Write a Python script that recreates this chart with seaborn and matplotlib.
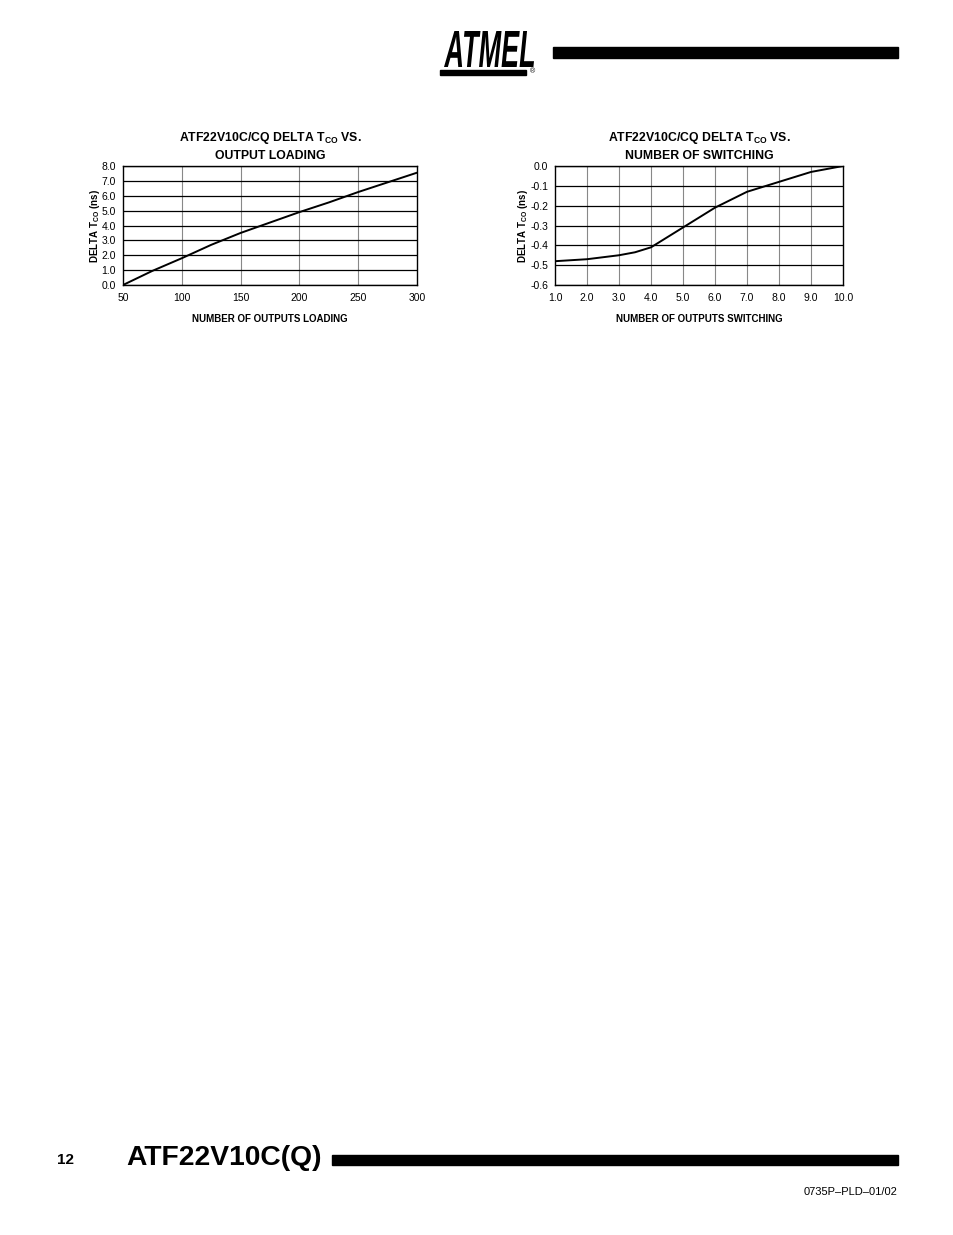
import matplotlib
matplotlib.use("Agg")
import matplotlib.pyplot as plt
import seaborn as sns
import pandas as pd
from matplotlib.patches import Rectangle, PathPatch
from matplotlib.textpath import TextPath
from matplotlib.font_manager import FontProperties
from matplotlib.transforms import Affine2D

# dados
carga_x = [50, 75, 100, 125, 150, 175, 200, 225, 250, 275, 300]
carga_y = [0.0, 0.95, 1.8, 2.7, 3.5, 4.2, 4.9, 5.55, 6.25, 6.9, 7.55]

chave_x = [1.0, 2.0, 3.0, 3.5, 4.0, 4.5, 5.0, 5.5, 6.0, 6.5, 7.0, 7.5, 8.0, 8.5, 9.0, 9.5, 10.0]
chave_y = [-0.48, -0.47, -0.45, -0.435, -0.41, -0.36, -0.31, -0.26, -0.21, -0.17,
           -0.13, -0.105, -0.08, -0.055, -0.03, -0.015, 0.0]

ticks_x_esq = [50, 100, 150, 200, 250, 300]
ticks_y_esq = [0, 1, 2, 3, 4, 5, 6, 7, 8]
ticks_x_dir = [1, 2, 3, 4, 5, 6, 7, 8, 9, 10]
ticks_y_dir = [0.0, -0.1, -0.2, -0.3, -0.4, -0.5, -0.6]

sns.set_style("white")
plt.rcParams['font.family'] = ['Liberation Sans', 'DejaVu Sans']
plt.rcParams['text.color'] = 'black'
plt.rcParams['axes.labelcolor'] = 'black'
plt.rcParams['xtick.color'] = 'black'
plt.rcParams['ytick.color'] = 'black'
plt.rcParams['mathtext.fontset'] = 'custom'
plt.rcParams['mathtext.rm'] = 'Liberation Sans:bold'
plt.rcParams['mathtext.it'] = 'Liberation Sans:bold'

W, H = 954, 1235
fig = plt.figure(figsize=(W / 100, H / 100), dpi=100)


def caixa(l, t, r, b):
    return [l / W, 1 - b / H, (r - l) / W, (b - t) / H]


def desenhar(ax, x, y, xt, yt, xlim, ylim, fmt_x, fmt_y, titulo2, xlabel):
    df = pd.DataFrame({'x': x, 'y': y})
    sns.lineplot(data=df, x='x', y='y', ax=ax, color='black', linewidth=1.4)
    ax.set_xlim(*xlim)
    ax.set_ylim(*ylim)
    ax.set_xticks(xt)
    ax.set_yticks(yt)
    ax.set_xticklabels([fmt_x(v) for v in xt], fontsize=7.5)
    ax.set_yticklabels([fmt_y(v) for v in yt], fontsize=7.5)
    ax.tick_params(axis='y', length=0, pad=5)
    ax.tick_params(axis='x', length=0, pad=6)
    for v in xt[1:-1]:
        ax.axvline(v, color='#888888', linewidth=0.8, zorder=0)
    for v in yt:
        ax.axhline(v, color='black', linewidth=0.9, zorder=0)
    for s in ax.spines.values():
        s.set_color('black')
        s.set_linewidth(1.0)
    ax.set_title('ATF22V10C/CQ DELTA T$_{CO}$ VS.\n' + titulo2,
                 fontsize=8.8, fontweight='bold', pad=5, linespacing=1.45)
    ax.set_xlabel(xlabel, fontsize=7, fontweight='bold', labelpad=8)
    ax.set_ylabel('DELTA T$_{CO}$ (ns)', fontsize=7, fontweight='bold', labelpad=0)


ax1 = fig.add_axes(caixa(123, 166, 417, 285))
desenhar(ax1, carga_x, carga_y, ticks_x_esq, ticks_y_esq, (50, 300), (0, 8),
         lambda v: f'{v}', lambda v: f'{v:.1f}', 'OUTPUT LOADING',
         'NUMBER OF OUTPUTS LOADING')

ax2 = fig.add_axes(caixa(555, 166, 843, 285))
desenhar(ax2, chave_x, chave_y, ticks_x_dir, ticks_y_dir, (1, 10), (-0.6, 0.0),
         lambda v: f'{v:.1f}', lambda v: f'{v:.1f}', 'NUMBER OF SWITCHING',
         'NUMBER OF OUTPUTS SWITCHING')

# cabeçalho: logo condensado esticado para caber na caixa do original
tp = TextPath((0, 0), 'ATMEL', size=10,
              prop=FontProperties(family='Liberation Sans', weight='bold', style='italic'))
ext = tp.get_extents()
l, t, r, b = 444, 31, 534, 67
sx = (r - l) / W / ext.width
sy = (b - t) / H / ext.height
tr = Affine2D().translate(-ext.x0, -ext.y0).scale(sx, sy).translate(l / W, 1 - b / H)
fig.add_artist(PathPatch(tr.transform_path(tp), transform=fig.transFigure,
                         color='black', lw=0))
fig.add_artist(Rectangle((440 / W, 1 - 75 / H), 86 / W, 5 / H, transform=fig.transFigure,
                         color='black'))
fig.text(533 / W, 1 - 72 / H, '®', fontsize=5, ha='center', va='center')
fig.add_artist(Rectangle((553 / W, 1 - 58 / H), 345 / W, 11 / H, transform=fig.transFigure,
                         color='black'))

# rodapé
fig.text(57 / W, 1 - 1160 / H, '12', fontsize=11, fontweight='bold', ha='left', va='center')
fig.text(126 / W, 1 - 1158 / H, 'ATF22V10C(Q)', fontsize=20.3, fontweight='bold',
         ha='left', va='center')
fig.add_artist(Rectangle((332 / W, 1 - 1165 / H), 566 / W, 10 / H, transform=fig.transFigure,
                         color='black'))
fig.text(898 / W, 1 - 1192 / H, '0735P–PLD–01/02', fontsize=8, ha='right', va='center')

fig.savefig('out.png', dpi=100)
